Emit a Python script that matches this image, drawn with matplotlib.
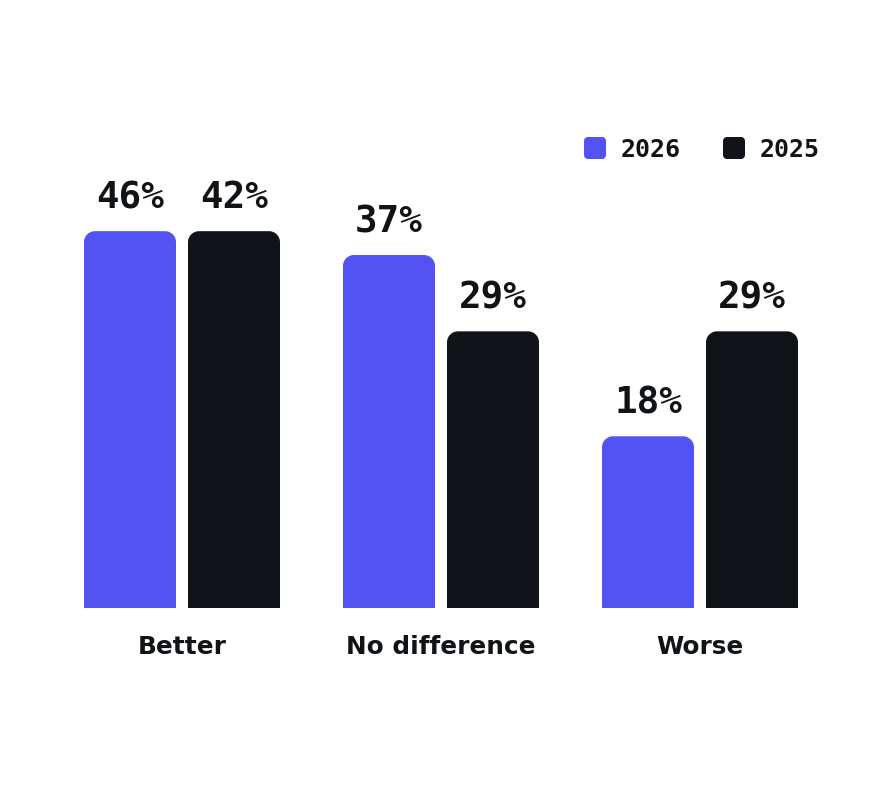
import matplotlib
matplotlib.use("Agg")
import matplotlib.pyplot as plt
from matplotlib.path import Path
from matplotlib.patches import PathPatch
from matplotlib.transforms import Affine2D

categories = ['Better', 'No difference', 'Worse']
years = ['2026', '2025']
values_2026 = [46, 37, 18]
values_2025 = [42, 29, 29]
colors = ['#5353F3', '#101317']
text_color = '#111417'

# the original draws the tallest bars cut down to this height
cap = 39.5

W, H = 888, 794
fig = plt.figure(figsize=(W / 100, H / 100), dpi=100)
ax = fig.add_axes([0, 0, 1, 1])
ax.axis('off')

# scale so that things land where the original has them
px_x = 259.0
px_y = 9.54
x0_px = 182
base_px = 608
ax.set_xlim(-x0_px / px_x, (W - x0_px) / px_x)
ax.set_ylim(-(H - base_px) / px_y, base_px / px_y)

bar_w = 92 / px_x
offset = 52 / px_x
k = 0.5523


def rounded_box(x, y, w, h, rx, ry, round_bottom=False):
    verts = []
    codes = []
    if round_bottom:
        verts += [(x + rx, y)]
        codes += [Path.MOVETO]
    else:
        verts += [(x, y)]
        codes += [Path.MOVETO]
    # left side up to top-left corner
    if round_bottom:
        verts += [(x + rx - k * rx, y), (x, y + ry - k * ry), (x, y + ry)]
        codes += [Path.CURVE4] * 3
    verts += [(x, y + h - ry), (x, y + h - ry + k * ry), (x + rx - k * rx, y + h), (x + rx, y + h)]
    codes += [Path.LINETO] + [Path.CURVE4] * 3
    verts += [(x + w - rx, y + h), (x + w - rx + k * rx, y + h), (x + w, y + h - ry + k * ry), (x + w, y + h - ry)]
    codes += [Path.LINETO] + [Path.CURVE4] * 3
    if round_bottom:
        verts += [(x + w, y + ry), (x + w, y + ry - k * ry), (x + w - rx + k * rx, y), (x + w - rx, y)]
        codes += [Path.LINETO] + [Path.CURVE4] * 3
    else:
        verts += [(x + w, y)]
        codes += [Path.LINETO]
    verts += [verts[0]]
    codes += [Path.CLOSEPOLY]
    return Path(verts, codes)


series = [values_2026, values_2025]
for s, vals in enumerate(series):
    for i, v in enumerate(vals):
        xc = i + (-offset if s == 0 else offset)
        h = min(v, cap)
        path = rounded_box(xc - bar_w / 2, 0, bar_w, h, 11 / px_x, 11 / px_y)
        ax.add_patch(PathPatch(path, facecolor=colors[s], edgecolor='none'))
        ax.annotate(f'{v}%', (xc, h), xytext=(0, 16.5), textcoords='offset points',
                    ha='center', va='baseline', fontsize=27, fontweight='bold',
                    family='DejaVu Sans Mono', color=text_color)

for i, c in enumerate(categories):
    ax.annotate(c, (i, 0), xytext=(0, -33), textcoords='offset points',
                ha='center', va='baseline', fontsize=17.8, fontweight='bold',
                family='DejaVu Sans', color=text_color)

# legend, placed in pixels from the top-left corner
pix = Affine2D().scale(1, -1).translate(0, H)
legend_x = [584, 723]
for j, yr in enumerate(years):
    sq = rounded_box(legend_x[j], 137, 22, 22, 4, 4, round_bottom=True)
    fig.patches.append(PathPatch(sq, facecolor=colors[j], edgecolor='none', transform=pix))
    fig.text((legend_x[j] + 37) / W, 1 - 157 / H, yr, ha='left', va='baseline',
             fontsize=18, fontweight='bold', family='DejaVu Sans Mono', color=text_color)

fig.savefig('out.png', dpi=100, facecolor='white')
